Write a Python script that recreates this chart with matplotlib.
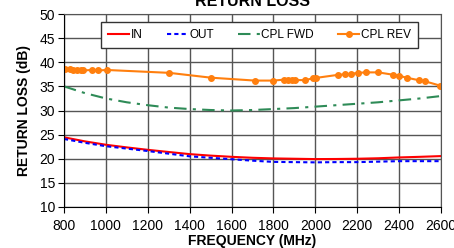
import matplotlib
matplotlib.use("Agg")
import matplotlib.pyplot as plt

plt.rcParams['font.family'] = ['Liberation Sans', 'DejaVu Sans']

freq_grid = [800, 900, 1000, 1100, 1200, 1300, 1400, 1500, 1600, 1700, 1800, 1900, 2000, 2100, 2200, 2300, 2400, 2500, 2600]
in_rl = [24.45, 23.6, 22.9, 22.35, 21.85, 21.4, 20.96, 20.65, 20.4, 20.2, 20.07, 20.0, 19.93, 19.95, 20.0, 20.1, 20.27, 20.4, 20.55]
out_rl = [24.1, 23.3, 22.6, 22.1, 21.6, 21.05, 20.5, 20.2, 19.9, 19.6, 19.35, 19.3, 19.25, 19.3, 19.3, 19.4, 19.5, 19.5, 19.5]
fwd_rl = [35.0, 33.6, 32.5, 31.7, 31.1, 30.6, 30.3, 30.1, 30.0, 30.1, 30.3, 30.5, 30.8, 31.1, 31.4, 31.7, 32.1, 32.5, 33.0]

rev_freq = [805, 829, 845, 864, 880, 892, 932, 964, 1004, 1303, 1502, 1712, 1800, 1852, 1871, 1887, 1903, 1951, 1991, 2002,
            2110, 2142, 2171, 2203, 2241, 2301, 2373, 2400, 2436, 2497, 2524, 2596]
rev_rl = [38.6, 38.5, 38.4, 38.3, 38.4, 38.3, 38.4, 38.3, 38.4, 37.8, 36.8, 36.2, 36.2, 36.4, 36.35, 36.3, 36.3, 36.3, 36.7, 36.75,
          37.4, 37.5, 37.6, 37.8, 37.9, 37.9, 37.4, 37.2, 36.8, 36.25, 36.05, 35.15]

x_ticks = [800, 1000, 1200, 1400, 1600, 1800, 2000, 2200, 2400, 2600]
y_ticks = [10, 15, 20, 25, 30, 35, 40, 45, 50]

fig = plt.figure(figsize=(4.54, 2.48), dpi=100)
ax = fig.add_axes([64/454, 1-207/248, 377/454, 193/248])

ax.plot(freq_grid, in_rl, color='#ff0000', lw=1.5, label='IN')
ax.plot(freq_grid, out_rl, color='#0000ff', lw=1.5, dashes=(2.0, 1.5), label='OUT')
ax.plot(freq_grid, fwd_rl, color='#2e8b57', lw=1.5, dashes=(6, 3, 1.5, 3), label='CPL FWD')
ax.plot(rev_freq, rev_rl, color='#ff7f0e', lw=1.5, marker='o', ms=4, label='CPL REV')

ax.set_xlim(800, 2600)
ax.set_ylim(10, 50)
ax.set_xticks(x_ticks)
ax.set_yticks(y_ticks)
ax.grid(True, color='#555555', lw=1.0)
ax.set_axisbelow(True)
for s in ax.spines.values():
    s.set_color('#555555')
ax.spines['left'].set_color('black')
ax.spines['bottom'].set_color('black')
ax.tick_params(labelsize=10, length=4.5, color='black')
ax.tick_params(axis='x', pad=4)
ax.tick_params(axis='y', pad=2)

ax.set_xlabel('FREQUENCY (MHz)', fontsize=10, fontweight='bold', labelpad=1)
ax.set_ylabel('RETURN LOSS (dB)', fontsize=10, fontweight='bold', labelpad=6)
fig.text((64+441)/2/454, 1-6/248, 'RETURN LOSS', ha='center', va='baseline', fontsize=11.5, fontweight='bold')

leg = ax.legend(loc='center', ncol=4, bbox_to_anchor=(0.082, 0.825, 0.873, 0.129), mode='expand',
                fontsize=8.5, frameon=True, fancybox=False, framealpha=1, edgecolor='#333333',
                handlelength=1.8, handletextpad=0.15, borderpad=0.6, columnspacing=1.0)
leg.get_frame().set_linewidth(1.0)

fig.savefig('out.png', dpi=100)
